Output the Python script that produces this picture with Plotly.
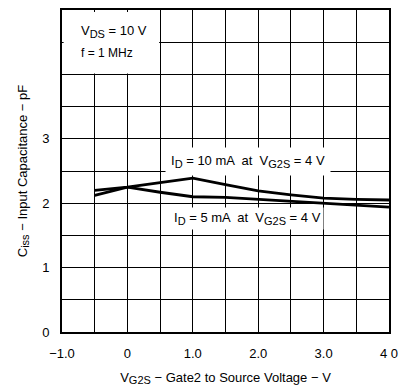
import plotly.graph_objects as go

# Data
vg2s = [-0.5, 0.0, 0.5, 1.0, 1.5, 2.0, 2.5, 3.0, 3.5, 4.0]
ciss_id10 = [2.20, 2.25, 2.32, 2.39, 2.29, 2.19, 2.13, 2.08, 2.06, 2.05]
ciss_id5 = [2.12, 2.25, 2.17, 2.10, 2.09, 2.06, 2.035, 2.005, 1.97, 1.94]

x_tickvals = [-1, 0, 1, 2, 3, 4]
x_ticktext = ["\u22121.0", "0", "1.0", "2.0", "3.0", "4 0"]
y_tickvals = [0, 1, 2, 3]
y_ticktext = ["0", "1", "2", "3"]

FONT = "Liberation Sans"


def sub(t, size=11):
    return '<sub><span style="font-size:%dpx">%s</span></sub>' % (size, t)


fig = go.Figure()
fig.add_trace(go.Scatter(x=vg2s, y=ciss_id10, mode="lines",
                         line=dict(color="black", width=2.8), showlegend=False))
fig.add_trace(go.Scatter(x=vg2s, y=ciss_id5, mode="lines",
                         line=dict(color="black", width=2.8), showlegend=False))

axis_common = dict(
    showline=True, linecolor="black", linewidth=2, mirror=True,
    showgrid=True, gridcolor="black", gridwidth=1,
    zeroline=False,
    ticks="outside", ticklen=8, tickcolor="rgba(0,0,0,0)",
    tickfont=dict(family=FONT, size=13, color="black"),
)

fig.update_xaxes(range=[-1, 4], tickvals=x_tickvals, ticktext=x_ticktext,
                 minor=dict(dtick=0.5, tick0=0, showgrid=True, gridcolor="black", gridwidth=1),
                 title=dict(text="V" + sub("G2S") + " \u2212 Gate2 to Source Voltage \u2212 V",
                            font=dict(family=FONT, size=13, color="black"), standoff=13),
                 **axis_common)
fig.update_yaxes(range=[0, 5], tickvals=y_tickvals, ticktext=y_ticktext,
                 minor=dict(dtick=0.5, tick0=0, showgrid=True, gridcolor="black", gridwidth=1),
                 title=dict(text="C" + sub("iss") + " \u2212 Input Capacitance \u2212 pF",
                            font=dict(family=FONT, size=13, color="black"), standoff=12),
                 **axis_common)

# white box behind the conditions text
fig.add_shape(type="rect", xref="x", yref="y", x0=-0.975, x1=0.485, y0=4.015, y1=4.97,
              fillcolor="white", line=dict(width=0), layer="above")

fig.add_annotation(x=-0.74, y=4.66, xref="x", yref="y", xanchor="left",
                   text="V" + sub("DS") + " = 10 V", showarrow=False,
                   font=dict(family=FONT, size=13, color="black"))
fig.add_annotation(x=-0.74, y=4.33, xref="x", yref="y", xanchor="left",
                   text="f = 1 MHz", showarrow=False,
                   font=dict(family=FONT, size=12, color="black"))

fig.add_annotation(x=1.84, y=2.64, xref="x", yref="y",
                   text="I" + sub("D") + " = 10 mA  at  V" + sub("G2S") + " = 4 V", showarrow=False,
                   bgcolor="white", borderpad=5,
                   font=dict(family=FONT, size=13, color="black"))
fig.add_annotation(x=1.84, y=1.76, xref="x", yref="y",
                   text="I" + sub("D") + " = 5 mA  at  V" + sub("G2S") + " = 4 V", showarrow=False,
                   bgcolor="white", borderpad=2,
                   font=dict(family=FONT, size=13, color="black"))

fig.update_layout(width=406, height=391,
                  margin=dict(l=62, r=11, t=8, b=52),
                  plot_bgcolor="white", paper_bgcolor="white",
                  font=dict(family=FONT, color="black"))

fig.write_html("out.html")
